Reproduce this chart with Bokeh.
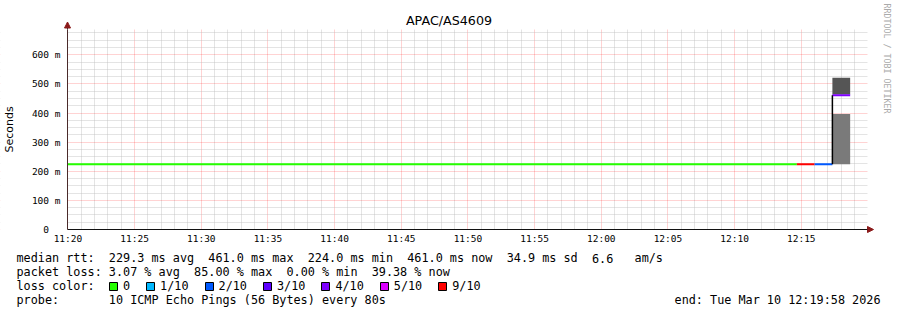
import math
import re
import pandas as pd
from bokeh.plotting import figure
from bokeh.models import (FixedTicker, CustomJSTickFormatter, DatetimeTickFormatter,
                          Label, Legend, LegendItem, Arrow, NormalHead, Range1d,
                          ColumnDataSource, BoxAnnotation)
from bokeh.embed import file_html
from bokeh.resources import INLINE

DAY = "2026-03-10 "

# ---- data ----
range_start = "11:19:58"
range_end = "12:19:58"
x_tick_labels = ["11:20", "11:25", "11:30", "11:35", "11:40", "11:45",
                 "11:50", "11:55", "12:00", "12:05", "12:10", "12:15"]
y_ticks_ms = [0, 100, 200, 300, 400, 500, 600]
y_max_ms = 687

# median rtt per loss-coloured step segment
seg_start = ["11:19:58", "12:14:40", "12:16:00", "12:17:20"]
seg_end = ["12:14:40", "12:16:00", "12:17:20", "12:18:40"]
median_ms = [224.0, 224.0, 224.0, 461.0]
seg_loss = ["0", "9/10", "2/10", "4/10"]

# smoke bands of the last step
smoke_start = ["12:17:20", "12:17:20"]
smoke_end = ["12:18:40", "12:18:40"]
smoke_low_ms = [224.0, 464.0]
smoke_high_ms = [397.0, 521.0]
smoke_level = [1, 2]

loss_categories = ["0", "1/10", "2/10", "3/10", "4/10", "5/10", "9/10"]

line1 = "median rtt:  229.3 ms avg  461.0 ms max  224.0 ms min  461.0 ms now  34.9 ms sd  6.6   am/s"
line2 = "packet loss: 3.07 % avg  85.00 % max  0.00 % min  39.38 % now"
line3 = "loss color:"
line4 = "probe:       10 ICMP Echo Pings (56 Bytes) every 80s"
end_text = "end: Tue Mar 10 12:19:58 2026"
title_text = "APAC/AS4609"
side_text = "RRDTOOL / TOBI OETIKER"

# ---- styles / geometry ----
loss_colors = {"0": "#26ff00", "1/10": "#00b8ff", "2/10": "#0059ff", "3/10": "#5e00ff",
               "4/10": "#7e00ff", "5/10": "#dd00ff", "9/10": "#ff0000"}
smoke_colors = {1: "#7a7a7a", 2: "#555555"}
MONO = "DejaVu Sans Mono"
SANS = "DejaVu Sans"
W, H = 897, 310
LEFT = 67          # graph area left (px)
BOTTOM = 229       # graph area bottom (px)
GRAPH_W, GRAPH_H = 800, 200
S_PER_PX = 3600 / GRAPH_W
MS_PER_PX = y_max_ms / GRAPH_H
TXT_SIZE = 11.8
CW = 0.60205 * TXT_SIZE
AXIS_COLOR_Y = "#4a2a2a"
AXIS_COLOR_X = "#111111"


def ts(t):
    return pd.Timestamp(DAY + t)


def ms(t):
    return ts(t).value / 1e6


x0 = ts(range_start)
x_frame_start = x0 - pd.Timedelta(seconds=LEFT * S_PER_PX)
x_frame_end = x0 + pd.Timedelta(seconds=(W - LEFT) * S_PER_PX)
y_frame_start = -(H - BOTTOM) * MS_PER_PX
y_frame_end = BOTTOM * MS_PER_PX

# the frame covers the whole canvas; axes sit at fixed data locations
p = figure(width=W, height=H, output_backend="svg", toolbar_location=None,
           x_axis_type="datetime",
           x_range=Range1d(x_frame_start, x_frame_end),
           y_range=Range1d(y_frame_start, y_frame_end),
           min_border=0, min_border_left=0, min_border_right=0,
           min_border_top=0, min_border_bottom=0)
p.title.text = ""
p.outline_line_color = None
p.background_fill_color = "white"
p.border_fill_color = "white"

# ticks
major_x = [ms(t) for t in x_tick_labels]
minute_ticks = pd.date_range(ts("11:20"), ts("12:19"), freq="1min")
minor_x = [t.value / 1e6 for t in minute_ticks if t.value / 1e6 not in major_x]
p.xaxis.ticker = FixedTicker(ticks=major_x, minor_ticks=minor_x)
p.xaxis.formatter = DatetimeTickFormatter(minsec="%H:%M", minutes="%H:%M",
                                          hourmin="%H:%M", hours="%H:%M")
minor_y = [v for v in range(0, y_max_ms, 25) if v not in y_ticks_ms]
p.yaxis.ticker = FixedTicker(ticks=y_ticks_ms, minor_ticks=minor_y)
# rrdtool style: value followed by the SI prefix column (blank for zero)
p.yaxis.formatter = CustomJSTickFormatter(
    code="return tick == 0 ? '0\\u00a0\\u00a0' : tick.toFixed(0) + ' m'")
p.xaxis.fixed_location = 0
p.yaxis.fixed_location = ms(range_start)
p.xaxis.bounds = (ms(range_start), ms(range_end))
p.yaxis.bounds = (0, y_max_ms)

for ax in (p.xaxis[0], p.yaxis[0]):
    ax.major_tick_in = 0
    ax.major_tick_out = 0
    ax.minor_tick_in = 0
    ax.minor_tick_out = 0
    ax.major_label_text_font = MONO
    ax.major_label_text_font_size = "9.5px"
    ax.major_label_text_color = "black"
p.xaxis.axis_line_color = AXIS_COLOR_X
p.yaxis.axis_line_color = AXIS_COLOR_Y
p.xaxis.major_label_standoff = 3
p.yaxis.major_label_standoff = 7
p.yaxis.axis_label = "Seconds"
p.yaxis.axis_label_text_font = SANS
p.yaxis.axis_label_text_font_size = "11px"
p.yaxis.axis_label_text_font_style = "normal"
p.yaxis.axis_label_text_color = "black"
p.yaxis.axis_label_standoff = 13

for g in (p.xgrid[0], p.ygrid[0]):
    g.grid_line_color = "#ff0000"
    g.grid_line_alpha = 0.35
    g.grid_line_dash = "1 1"
    g.minor_grid_line_color = "#bbbbbb"
    g.minor_grid_line_alpha = 0.8
    g.minor_grid_line_dash = "1 1"

# keep the grid inside the graph area: white underlay boxes outside it
FX, FY = 1e15, 1e9
for l, r, b, t in [(-FX, FX, y_max_ms, FY), (-FX, FX, -FY, 0),
                   (-FX, ms(range_start), -FY, FY), (ms(range_end), FX, -FY, FY)]:
    p.add_layout(BoxAnnotation(left=l, right=r, bottom=b, top=t, level="underlay",
                               fill_color="white", fill_alpha=1, line_color=None))

# smoke
smoke_src = ColumnDataSource(dict(
    left=[ts(t) for t in smoke_start], right=[ts(t) for t in smoke_end],
    bottom=smoke_low_ms, top=smoke_high_ms,
    color=[smoke_colors[l] for l in smoke_level]))
p.quad(left="left", right="right", bottom="bottom", top="top", fill_color="color",
       line_color=None, source=smoke_src)

# median line
med_src = ColumnDataSource(dict(
    x0=[ts(t) for t in seg_start], x1=[ts(t) for t in seg_end],
    y=median_ms, color=[loss_colors[l] for l in seg_loss]))
p.segment(x0="x0", y0="y", x1="x1", y1="y", line_color="color", line_width=2,
          line_cap="butt", source=med_src)
# step connector
p.segment(x0=[ts(seg_start[3])], y0=[median_ms[2]], x1=[ts(seg_start[3])],
          y1=[median_ms[3]], line_color="black", line_width=1.5)

# arrows at the axis ends
arrow_color = "#8b1a1a"
p.add_layout(Arrow(end=NormalHead(size=6, fill_color=arrow_color, line_color=arrow_color),
                   x_start=ms(range_end), y_start=0,
                   x_end=ms(range_end) + 6 * S_PER_PX * 1000, y_end=0,
                   line_color=AXIS_COLOR_X, line_width=1))
p.add_layout(Arrow(end=NormalHead(size=6, fill_color=arrow_color, line_color=arrow_color),
                   x_start=ms(range_start), y_start=y_max_ms,
                   x_end=ms(range_start), y_end=y_max_ms + 7.5 * MS_PER_PX,
                   line_color=AXIS_COLOR_Y, line_width=1))


def text_label(x, y, text, font=MONO, size=f"{TXT_SIZE}px", align="left",
               color="black", angle=0.0, baseline="alphabetic"):
    # x, y: canvas pixels from the top-left corner
    p.add_layout(Label(x=x, y=H - y, x_units="screen", y_units="screen", text=text,
                       text_font=font, text_font_size=size, text_align=align,
                       text_baseline=baseline, text_color=color, angle=angle))


text_label(448.5, 20, title_text, font=SANS, size="12.7px", align="center",
           baseline="middle")
text_label(886, 58, side_text, size="8.3px", align="center", color="#aaaaaa",
           angle=-math.pi / 2, baseline="middle")


def mono_line(text, baseline_px):
    # place each chunk (separated by runs of spaces) at its character column
    for m in re.finditer(r"\S+(?: \S+)*", text):
        text_label(16 + m.start() * CW, baseline_px, m.group())


mono_line(line1, 257.5)
mono_line(line2, 271.5)
mono_line(line3, 285.5)
mono_line(line4, 299.5)
text_label(880, 299.5, end_text, align="right")

# loss colour legend (swatch renderers hold one off-canvas box each)
items = []
off = ms(range_start) - 1e9
for cat in loss_categories:
    r = p.quad(left=[off - 1e6], right=[off], top=[-1e6], bottom=[-2e6],
               fill_color=loss_colors[cat], line_color="black", line_width=1)
    items.append(LegendItem(label=cat, renderers=[r]))
ITEM_H = 17
legend = Legend(items=items, orientation="horizontal",
                location=(108, H - 277 - ITEM_H),
                glyph_width=10, glyph_height=10, label_standoff=5, spacing=15,
                padding=0, margin=0, border_line_color=None,
                background_fill_alpha=0, label_text_font=MONO,
                label_text_font_size=f"{TXT_SIZE}px", label_height=ITEM_H, label_width=5,
                label_text_baseline="alphabetic", label_text_color="black")
p.add_layout(legend)

open("out.html", "w").write(file_html(p, INLINE))
